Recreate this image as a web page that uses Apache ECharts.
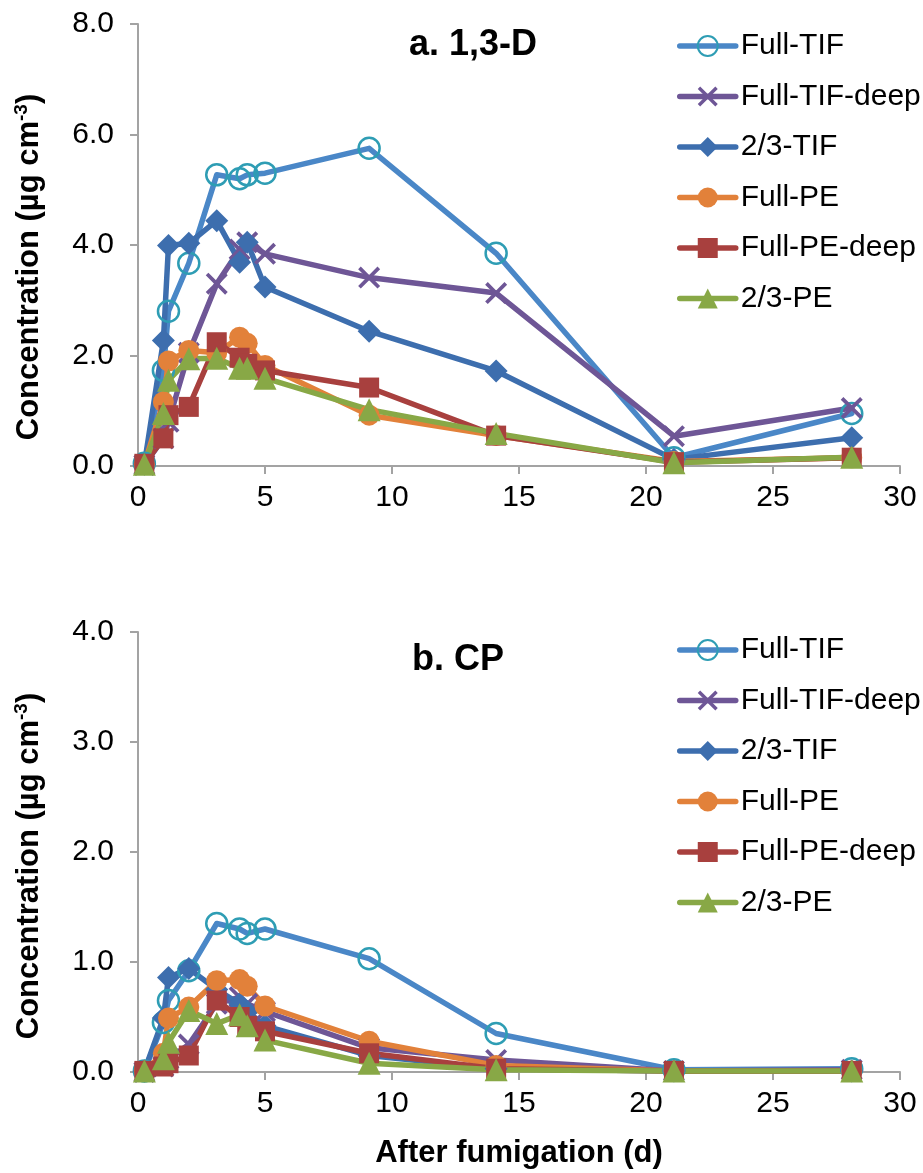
<!DOCTYPE html>
<html>
<head>
<meta charset="utf-8">
<script src="https://cdn.jsdelivr.net/npm/echarts@6/dist/echarts.min.js"></script>
<style>
html,body{margin:0;padding:0;background:#fff;}
#c{width:923px;height:1173px;}
</style>
</head>
<body>
<div id="c"></div>
<script>
// Sampling times (days after fumigation)
const days = [0.25, 1.0, 1.2, 2.0, 3.1, 4.0, 4.3, 5.0, 9.1, 14.1, 21.1, 28.1];
const seriesNames = ['Full-TIF', 'Full-TIF-deep', '2/3-TIF', 'Full-PE', 'Full-PE-deep', '2/3-PE'];

// a. 1,3-D
const d13_fullTIF     = [0.05, 1.73, 2.80, 3.67, 5.27, 5.20, 5.27, 5.30, 5.75, 3.85, 0.15, 0.95];
const d13_fullTIFdeep = [0.02, 0.50, 0.80, 2.05, 3.30, 3.92, 4.05, 3.84, 3.41, 3.13, 0.54, 1.05];
const d13_23TIF       = [0.03, 2.27, 3.99, 4.03, 4.44, 3.69, 4.05, 3.24, 2.44, 1.72, 0.12, 0.51];
const d13_fullPE      = [0.03, 1.16, 1.90, 2.09, 2.05, 2.33, 2.22, 1.82, 0.92, 0.55, 0.08, 0.15];
const d13_fullPEdeep  = [0.04, 0.50, 0.92, 1.07, 2.24, 1.96, 1.85, 1.73, 1.42, 0.55, 0.07, 0.15];
const d13_23PE        = [0.03, 0.95, 1.55, 1.94, 1.95, 1.77, 1.77, 1.59, 1.02, 0.59, 0.06, 0.16];

// b. CP
const cp_fullTIF     = [0.01, 0.45, 0.65, 0.92, 1.35, 1.30, 1.26, 1.30, 1.03, 0.35, 0.02, 0.03];
const cp_fullTIFdeep = [0.00, 0.05, 0.12, 0.25, 0.62, 0.68, 0.62, 0.55, 0.22, 0.11, 0.01, 0.02];
const cp_23TIF       = [0.01, 0.49, 0.86, 0.94, 0.75, 0.62, 0.55, 0.42, 0.15, 0.03, 0.01, 0.01];
const cp_fullPE      = [0.01, 0.17, 0.49, 0.59, 0.83, 0.84, 0.78, 0.60, 0.28, 0.06, 0.01, 0.01];
const cp_fullPEdeep  = [0.01, 0.05, 0.08, 0.15, 0.65, 0.50, 0.42, 0.37, 0.17, 0.03, 0.01, 0.01];
const cp_23PE        = [0.01, 0.12, 0.27, 0.56, 0.44, 0.52, 0.42, 0.29, 0.08, 0.02, 0.01, 0.01];

const xTicks = [0, 5, 10, 15, 20, 25, 30];

const FONT = '"Liberation Sans", Arial, sans-serif';
const crossPath = 'path://M0,1.2 L1.2,0 L5,3.8 L8.8,0 L10,1.2 L6.2,5 L10,8.8 L8.8,10 L5,6.2 L1.2,10 L0,8.8 L3.8,5 Z';

const styles = [
  {line:'#4A87C7', symbol:'circle', size:21, item:{color:'rgba(255,255,255,0)', borderColor:'#2E9DB4', borderWidth:2.5}},
  {line:'#6E5696', symbol:crossPath, size:22, item:{color:'#6E5696'}},
  {line:'#3D6EAE', symbol:'diamond', size:23, item:{color:'#3D6EAE'}},
  {line:'#E2813A', symbol:'circle', size:21, item:{color:'#E2813A'}},
  {line:'#A8403E', symbol:'rect', size:20, item:{color:'#A8403E'}},
  {line:'#88A846', symbol:'triangle', size:23, item:{color:'#88A846'}}
];

const topData = [d13_fullTIF, d13_fullTIFdeep, d13_23TIF, d13_fullPE, d13_fullPEdeep, d13_23PE];
const botData = [cp_fullTIF, cp_fullTIFdeep, cp_23TIF, cp_fullPE, cp_fullPEdeep, cp_23PE];

function mk(vals, i, gi) {
  const s = styles[i];
  return {
    name: seriesNames[i], type: 'line', xAxisIndex: gi, yAxisIndex: gi,
    data: days.map((d, k) => [d, vals[k]]),
    symbol: s.symbol, symbolSize: s.size, showAllSymbol: true,
    lineStyle: {color: s.line, width: 5.5, cap: 'round', join: 'round'},
    itemStyle: s.item,
    emphasis: {disabled: true},
    animation: false
  };
}

const series = [];
topData.forEach((v, i) => series.push(mk(v, i, 0)));
botData.forEach((v, i) => series.push(mk(v, i, 1)));

const axisCommon = {
  axisLine: {lineStyle: {color: '#A3A3A3', width: 2}},
  axisTick: {show: true, length: 8, lineStyle: {color: '#A3A3A3', width: 2}},
  splitLine: {show: false},
  axisLabel: {color: '#000', fontSize: 30, fontFamily: FONT}
};

function xAx(gi, withName) {
  const o = Object.assign({}, axisCommon, {
    type: 'value', gridIndex: gi, min: 0, max: 30, interval: 5,
    axisLabel: Object.assign({}, axisCommon.axisLabel, {margin: 17, formatter: v => String(v)})
  });
  if (withName) {
    o.name = 'After fumigation (d)';
    o.nameLocation = 'middle';
    o.nameGap = 66;
    o.nameTextStyle = {color: '#000', fontSize: 31, fontWeight: 'bold', fontFamily: FONT};
  }
  return o;
}
function yAx(gi, max, interval, shift) {
  return Object.assign({}, axisCommon, {
    type: 'value', gridIndex: gi, min: 0, max: max, interval: interval,
    axisLabel: Object.assign({}, axisCommon.axisLabel, {margin: 24, formatter: v => v.toFixed(1)}),
    name: 'Concentration (µg cm{sup|-3})',
    nameLocation: 'middle', nameGap: 92,
    nameTextStyle: {color: '#000', fontSize: 31, fontWeight: 'bold', fontFamily: FONT, lineHeight: 34,
      padding: [0, shift, 0, 0],
      rich: {sup: {fontSize: 19, fontWeight: 'bold', fontFamily: FONT, color: '#000', verticalAlign: 'top', lineHeight: 19}}}
  });
}

function legend(top) {
  return {
    orient: 'vertical', left: 672, top: top,
    itemWidth: 56, itemHeight: 25, itemGap: 20.5,
    selectedMode: false,
    lineStyle: {width: 5.5, cap: 'round'},
    textStyle: {color: '#000', fontSize: 30, fontFamily: FONT, padding: [0,0,0,0]},
    data: seriesNames
  };
}

const chart = echarts.init(document.getElementById('c'), null, {renderer: 'canvas'});
chart.setOption({
  backgroundColor: '#fff',
  animation: false,
  grid: [
    {left: 138, top: 24, width: 762, height: 442, outerBoundsMode: 'none'},
    {left: 138, top: 632, width: 762, height: 440, outerBoundsMode: 'none'}
  ],
  xAxis: [xAx(0, false), xAx(1, true)],
  yAxis: [yAx(0, 8, 2, 44), yAx(1, 4, 1, 28)],
  legend: [legend(26), legend(630)],
  graphic: [
    {type: 'text', left: 409, top: 27, style: {text: 'a. 1,3-D', font: 'bold 36px ' + FONT, fill: '#000'}},
    {type: 'text', left: 412, top: 642, style: {text: 'b. CP', font: 'bold 36px ' + FONT, fill: '#000'}}
  ],
  series: series
});
</script>
</body>
</html>
